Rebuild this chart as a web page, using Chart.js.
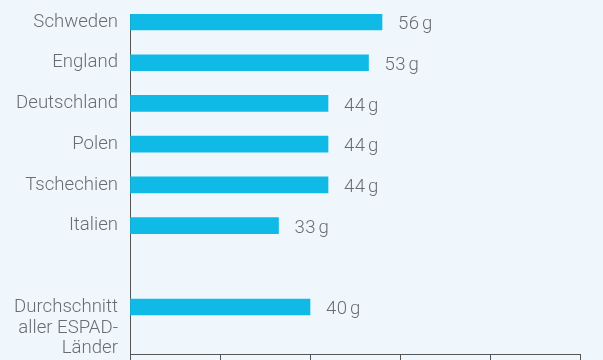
<!DOCTYPE html>
<html lang="de">
<head>
<meta charset="utf-8">
<script src="https://cdn.jsdelivr.net/npm/chart.js@4/dist/chart.umd.min.js"></script>
<style>
  html, body { margin: 0; padding: 0; background: #eff7fd; }
  #grafik { display: block; }
</style>
</head>
<body>
<canvas id="grafik" width="603" height="360"></canvas>
<script>
// Werte aus der Grafik (Gramm)
const kategorien = ['Schweden', 'England', 'Deutschland', 'Polen', 'Tschechien', 'Italien', '', ['Durchschnitt', 'aller ESPAD-', 'Länder']];
const werte = [56, 53, 44, 44, 44, 33, null, 40];
const xTicks = [0, 20, 40, 60, 80, 100];
const einheit = 'g';

const textFarbe = '#6b6c6e';
const achsenFarbe = '#555';
const schrift = 'Roboto';
const schriftGroesse = 18.6;

const punkte = werte
    .map((v, i) => ({ x: v, y: i }))
    .filter(p => p.x !== null);

// Beschriftung rechts neben den Balken
const wertLabels = {
    id: 'wertLabels',
    afterDatasetsDraw(chart) {
        const ctx = chart.ctx;
        const meta = chart.getDatasetMeta(0);
        ctx.save();
        ctx.font = '300 ' + schriftGroesse + 'px ' + schrift;
        ctx.fillStyle = textFarbe;
        ctx.textBaseline = 'middle';
        ctx.textAlign = 'left';
        ctx.letterSpacing = '0.5px';
        meta.data.forEach((bar, i) => {
            const v = punkte[i].x;
            ctx.fillText(v + '\u200A' + einheit, bar.x + 16, bar.y + 2.5);
        });
        ctx.restore();
    }
};

new Chart(document.getElementById('grafik'), {
    type: 'bar',
    data: {
        datasets: [{
            data: punkte,
            backgroundColor: '#0fbbe6',
            borderWidth: 0,
            barThickness: 16
        }]
    },
    options: {
        indexAxis: 'y',
        responsive: false,
        animation: false,
        layout: { padding: { top: 14, right: 23, left: 0, bottom: 0 } },
        plugins: {
            legend: { display: false },
            tooltip: { enabled: false }
        },
        scales: {
            x: {
                type: 'linear',
                min: 0,
                max: 100,
                afterBuildTicks: (scale) => { scale.ticks = xTicks.map(v => ({ value: v })); },
                ticks: { display: false },
                grid: { display: true, drawOnChartArea: false, drawTicks: true, tickLength: 6, color: achsenFarbe },
                border: { display: true, color: achsenFarbe, width: 1 }
            },
            y: {
                type: 'linear',
                reverse: true,
                offset: false,
                min: -0.1965,
                max: 8.154,
                afterBuildTicks: (scale) => {
                    scale.ticks = kategorien
                        .map((k, i) => ({ value: i, k: k }))
                        .filter(t => t.k !== '')
                        .map(t => ({ value: t.value }));
                },
                afterFit: (scale) => {
                    scale.width = 130;
                    scale.paddingTop = 0;
                    scale.paddingBottom = 0;
                },
                ticks: {
                    autoSkip: false,
                    padding: 12,
                    color: textFarbe,
                    font: { family: schrift, size: schriftGroesse, weight: '300', lineHeight: 1.12 },
                    callback: (value) => {
                        const k = kategorien[value];
                        // mehrzeilige Beschriftung oben am Balken ausrichten
                        if (Array.isArray(k)) return ['', ''].concat(k);
                        return k;
                    }
                },
                grid: { display: false, drawTicks: false, offset: false },
                border: { display: true, color: achsenFarbe, width: 1 }
            }
        }
    },
    plugins: [wertLabels]
});
</script>
</body>
</html>
